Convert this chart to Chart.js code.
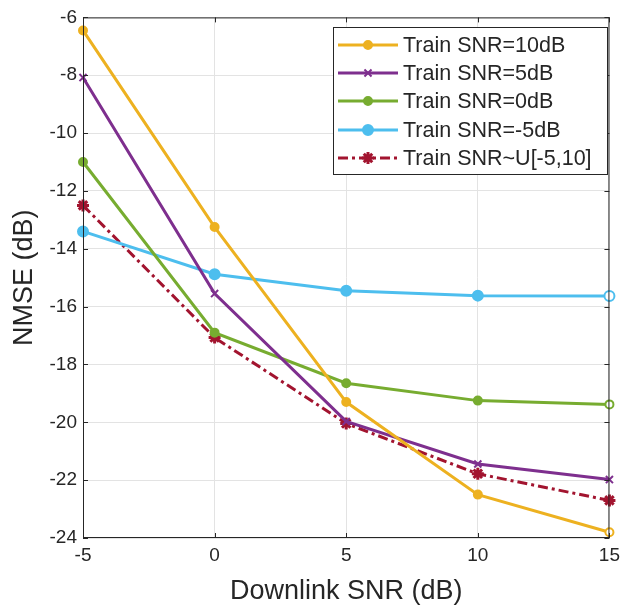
<!DOCTYPE html>
<html><head><meta charset="utf-8">
<script src="https://cdn.jsdelivr.net/npm/chart.js@4"></script>
<style>html,body{margin:0;padding:0;background:#fff}</style>
</head>
<body>
<canvas id="c" width="626" height="609"></canvas>
<script>
const snr = [-5, 0, 5, 10, 15];
const train10 = [-6.45, -13.25, -19.3, -22.5, -23.8];
const train5 = [-8.08, -15.55, -19.97, -21.44, -21.98];
const train0 = [-11.0, -16.9, -18.65, -19.25, -19.38];
const trainM5 = [-13.4, -14.88, -15.45, -15.62, -15.63];
const trainU = [-12.5, -17.07, -20.04, -21.78, -22.7];
const xTicks = [-5, 0, 5, 10, 15];
const yTicks = [-24, -22, -20, -18, -16, -14, -12, -10, -8, -6];
const labels = ['Train SNR=10dB', 'Train SNR=5dB', 'Train SNR=0dB', 'Train SNR=-5dB', 'Train SNR~U[-5,10]'];

const FONT = '"Liberation Sans", Arial, Helvetica, sans-serif';
const TXT = '#262626';

function pts(arr) { return snr.map((x, i) => ({x: x, y: arr[i]})); }
function lastWhite(c) { return snr.map((_, i) => i === snr.length - 1 ? '#ffffff' : c); }

const styles = [
  {c: '#EDB120', ps: 'circle', r: 4, dash: []},
  {c: '#7E2F8E', ps: 'crossRot', r: 5, dash: []},
  {c: '#77AC30', ps: 'circle', r: 4, dash: []},
  {c: '#4DBEEE', ps: 'circle', r: 5, dash: []},
  {c: '#A2142F', ps: 'star', r: 6, dash: [10, 4, 3, 4]}
];
const series = [train10, train5, train0, trainM5, trainU];

const datasets = series.map((s, i) => ({
  label: labels[i],
  data: pts(s),
  borderColor: styles[i].c,
  backgroundColor: styles[i].c,
  pointBackgroundColor: styles[i].ps === 'circle' ? lastWhite(styles[i].c) : styles[i].c,
  pointBorderColor: styles[i].c,
  pointStyle: styles[i].ps,
  pointRadius: styles[i].r,
  pointBorderWidth: styles[i].ps === 'star' ? 3 : 2,
  borderWidth: 3,
  borderDash: styles[i].dash,
  tension: 0,
  clip: false,
  order: i
}));

function drawMarker(ctx, style, x, y, r, color, bw) {
  ctx.save();
  ctx.strokeStyle = color; ctx.fillStyle = color; ctx.lineWidth = bw; ctx.setLineDash([]);
  ctx.beginPath();
  if (style === 'circle') {
    ctx.arc(x, y, r, 0, Math.PI * 2); ctx.fill(); ctx.stroke();
  } else if (style === 'crossRot') {
    const d = r * 0.7071;
    ctx.moveTo(x - d, y - d); ctx.lineTo(x + d, y + d);
    ctx.moveTo(x + d, y - d); ctx.lineTo(x - d, y + d); ctx.stroke();
  } else if (style === 'star') {
    for (let k = 0; k < 4; k++) {
      const a = k * Math.PI / 4;
      ctx.moveTo(x - r * Math.cos(a), y - r * Math.sin(a));
      ctx.lineTo(x + r * Math.cos(a), y + r * Math.sin(a));
    }
    ctx.stroke();
  }
  ctx.restore();
}

const framePlugin = {
  id: 'frame',
  afterDatasetsDraw(chart) {
    const ctx = chart.ctx, a = chart.chartArea;
    const xs = chart.scales.x, ys = chart.scales.y;
    ctx.save();
    ctx.strokeStyle = TXT; ctx.lineWidth = 1;
    ctx.strokeRect(a.left + 0.5, a.top + 0.5, a.right - a.left - 1, a.bottom - a.top - 1);
    ctx.beginPath();
    const L = 5;
    xTicks.forEach(v => {
      const px = Math.round(xs.getPixelForValue(v)) + 0.5;
      ctx.moveTo(px, a.bottom); ctx.lineTo(px, a.bottom - L);
      ctx.moveTo(px, a.top); ctx.lineTo(px, a.top + L);
    });
    yTicks.forEach(v => {
      const py = Math.round(ys.getPixelForValue(v)) + 0.5;
      ctx.moveTo(a.left, py); ctx.lineTo(a.left + L, py);
      ctx.moveTo(a.right, py); ctx.lineTo(a.right - L, py);
    });
    ctx.stroke();
    ctx.restore();
  },
  afterDraw(chart) {
    const ctx = chart.ctx;
    const bx = 333, by = 27, bw = 274, bh = 147;
    ctx.save();
    ctx.fillStyle = '#ffffff';
    ctx.fillRect(bx, by, bw, bh);
    ctx.strokeStyle = TXT; ctx.lineWidth = 1;
    ctx.strokeRect(bx + 0.5, by + 0.5, bw, bh);
    const rowY = [45, 73, 101, 130, 158];
    chart.data.datasets.forEach((ds, i) => {
      const y = rowY[i];
      ctx.save();
      ctx.strokeStyle = ds.borderColor; ctx.lineWidth = 3;
      ctx.setLineDash(ds.borderDash || []);
      ctx.beginPath(); ctx.moveTo(338, y); ctx.lineTo(398, y); ctx.stroke();
      ctx.restore();
      drawMarker(ctx, ds.pointStyle, 368, y, ds.pointRadius, ds.borderColor, ds.pointBorderWidth);
      ctx.fillStyle = TXT;
      ctx.font = '21.5px ' + FONT;
      ctx.textBaseline = 'middle';
      ctx.textAlign = 'left';
      ctx.fillText(ds.label, 403, y + 1);
    });
    ctx.restore();
  }
};

new Chart(document.getElementById('c'), {
  type: 'line',
  data: {datasets: datasets},
  options: {
    responsive: false,
    animation: false,
    layout: {padding: {top: 11, right: 9, left: 0, bottom: 0}},
    plugins: {legend: {display: false}, tooltip: {enabled: false}},
    scales: {
      x: {
        type: 'linear', min: -5, max: 15,
        afterBuildTicks: s => { s.ticks = xTicks.map(v => ({value: v})); },
        afterFit: s => { s.height = 71; },
        grid: {color: '#e3e3e3', lineWidth: 1, drawTicks: false},
        border: {display: false},
        ticks: {color: TXT, font: {family: FONT, size: 19}, padding: 6, maxRotation: 0},
        title: {display: true, text: 'Downlink SNR (dB)', color: TXT, font: {family: FONT, size: 27}, padding: {top: 0, bottom: 1}}
      },
      y: {
        type: 'linear', min: -24, max: -6,
        afterBuildTicks: s => { s.ticks = yTicks.map(v => ({value: v})); },
        afterFit: s => { s.width = 83; },
        grid: {color: '#e3e3e3', lineWidth: 1, drawTicks: false},
        border: {display: false},
        ticks: {color: TXT, font: {family: FONT, size: 19}, padding: 6},
        title: {display: true, text: 'NMSE (dB)', color: TXT, font: {family: FONT, size: 27}, padding: {top: 8, bottom: 0}}
      }
    }
  },
  plugins: [framePlugin]
});
</script>
</body></html>
